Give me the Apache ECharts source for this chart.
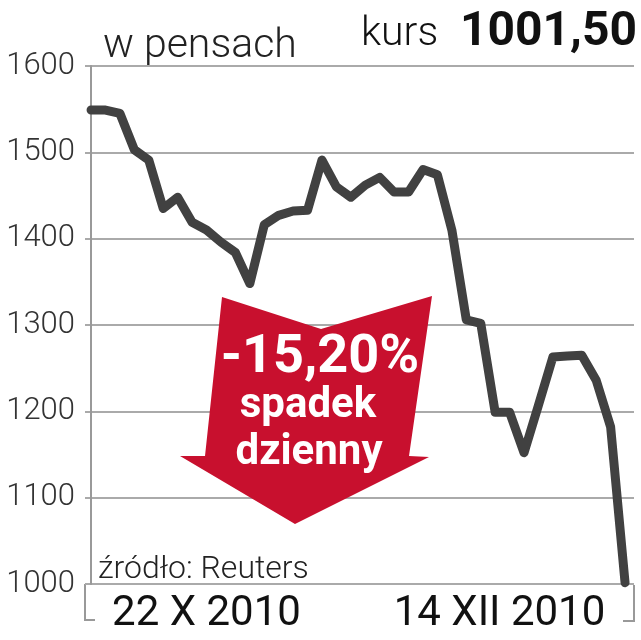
<!DOCTYPE html>
<html>
<head>
<meta charset="utf-8">
<script src="https://cdn.jsdelivr.net/npm/echarts@6/dist/echarts.min.js"></script>
<style>
html,body{margin:0;padding:0;background:#fff;}
#c{width:641px;height:640px;}
</style>
</head>
<body>
<div id="c"></div>
<script>
// Kurs akcji (w pensach), kolejne sesje
const prices = [1549,1549,1545,1503,1491,1435,1448,1419,1410,1396,1384,1348,1416,1427,1432,1433,1491,1460,1448,1462,1471,1454,1454,1480,1474,1410,1306,1302,1199,1199,1152,1207,1263,1264,1265,1236,1182,1001.5];
const xLabelPos = [8, 28.3];
const xLabelText = ['22 X 2010', '14 XII 2010'];
const yTicks = [1000, 1100, 1200, 1300, 1400, 1500, 1600];
const unitLabel = 'w pensach';
const lastLabel = 'kurs';
const lastValue = '1001,50';
const changeText = ['-15,20%', 'spadek', 'dzienny'];
const sourceText = 'źródło: Reuters';

const chart = echarts.init(document.getElementById('c'), null, {renderer: 'canvas'});
const FONT = 'Roboto, "Noto Sans", sans-serif';
const RED = '#c8102e';

chart.setOption({
  animation: false,
  backgroundColor: '#ffffff',
  grid: {left: 85, right: 7, top: 66, bottom: 56},
  xAxis: {
    type: 'value',
    min: -0.42,
    max: prices.length - 1 + 0.62,
    axisLine: {show: false},
    axisTick: {show: false},
    splitLine: {show: false},
    axisLabel: {
      customValues: xLabelPos,
      formatter: function (v) {
        const i = xLabelPos.indexOf(v);
        return i >= 0 ? xLabelText[i] : '';
      },
      fontFamily: FONT,
      fontWeight: 400,
      fontSize: 42,
      lineHeight: 42,
      color: '#111',
      margin: 9
    }
  },
  yAxis: {
    type: 'value',
    min: yTicks[0],
    max: yTicks[yTicks.length - 1],
    interval: 100,
    axisLine: {show: true, lineStyle: {color: '#999', width: 2}},
    axisTick: {show: false},
    splitLine: {show: true, lineStyle: {color: '#aaa', width: 2}},
    axisLabel: {
      formatter: function (v) { return String(v); },
      fontFamily: FONT,
      fontWeight: 300,
      fontSize: 31,
      color: '#333',
      margin: 10
    }
  },
  series: [{
    type: 'line',
    data: prices.map((v, i) => [i, v]),
    symbol: 'none',
    lineStyle: {color: '#414141', width: 9, cap: 'round', join: 'round'},
    z: 3
  }],
  graphic: [
    {type: 'polyline', shape: {points: [[85, 584], [85, 620], [95, 620]]}, style: {stroke: '#999', lineWidth: 2, fill: null}},
    {type: 'polyline', shape: {points: [[623, 621], [634, 621], [634, 585]]}, style: {stroke: '#999', lineWidth: 2, fill: null}},
    {type: 'polygon', z: 5, shape: {points: [[222, 297], [321, 329], [432, 296], [409, 456], [429, 457], [295, 524], [180, 456], [205, 456]]}, style: {fill: RED}},
    {type: 'text', z: 6, x: 320, y: 358, style: {text: changeText[0], fill: '#fff', font: 'bold 54px ' + FONT, textAlign: 'center', textVerticalAlign: 'middle'}},
    {type: 'text', z: 6, x: 308, y: 406, style: {text: changeText[1], fill: '#fff', font: 'bold 42px ' + FONT, textAlign: 'center', textVerticalAlign: 'middle'}},
    {type: 'text', z: 6, x: 309, y: 453, style: {text: changeText[2], fill: '#fff', font: 'bold 42px ' + FONT, textAlign: 'center', textVerticalAlign: 'middle'}},
    {type: 'text', z: 6, x: 103, y: 47, style: {text: unitLabel, fill: '#222', font: '300 41px ' + FONT, textAlign: 'left', textVerticalAlign: 'middle'}},
    {type: 'text', z: 6, x: 361, y: 35, style: {text: lastLabel, fill: '#111', font: '300 41px ' + FONT, textAlign: 'left', textVerticalAlign: 'middle'}},
    {type: 'text', z: 6, x: 637, y: 33, style: {text: lastValue, fill: '#111', font: 'bold 48px ' + FONT, textAlign: 'right', textVerticalAlign: 'middle'}},
    {type: 'text', z: 6, x: 98, y: 570, style: {text: sourceText, fill: '#222', font: '300 32px ' + FONT, textAlign: 'left', textVerticalAlign: 'middle'}}
  ]
});
</script>
</body>
</html>
